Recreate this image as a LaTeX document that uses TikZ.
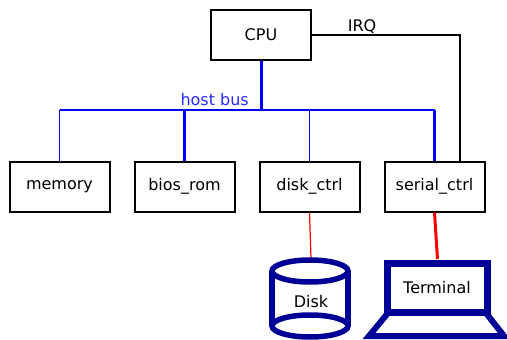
\documentclass[tikz,border=0pt]{standalone}
\usepackage{fontspec}
\setmainfont{DejaVu Sans}
\usepackage{tikz}
\usetikzlibrary{positioning}
\definecolor{devblue}{RGB}{0,0,150}
\definecolor{busblue}{RGB}{40,40,255}

\begin{document}
\begin{tikzpicture}[x=1pt,y=-1pt,
font=\fontsize{16}{19}\selectfont,
unit/.style={draw,line width=2pt,minimum width=100pt,minimum height=50pt,inner sep=0pt},
bus/.style={draw=blue,line width=3pt},
tap/.style={draw=blue,line width=1.4pt},
device/.style={draw=devblue,line width=5.5pt}]
\useasboundingbox (0,0) rectangle (507,340);
% units
\node[unit] (cpu) at (261,35) {CPU};
\node[unit] (memory) at (59.5,186.5) {memory};
\node[unit,right=23pt of memory] (biosrom) {bios\_rom};
\node[unit,right=23pt of biosrom] (diskctrl) {disk\_ctrl};
\node[unit,right=23pt of diskctrl] (serialctrl) {serial\_ctrl};
% host bus
\coordinate (bus) at (261,110);
\draw[bus] (cpu.south) -- (bus);
\draw[bus,line width=2.6pt] (memory.north |- bus) -- (serialctrl.north |- bus);
\draw[tap] (memory.north) -- (memory.north |- bus);
\draw[bus] (biosrom.north) -- (biosrom.north |- bus);
\draw[tap] (diskctrl.north) -- (diskctrl.north |- bus);
\draw[bus] (serialctrl.north) -- (serialctrl.north |- bus);
\node[text=busblue,anchor=base east,inner sep=0pt] (hostbus) at (249,105) {host bus};
% interrupt line
\draw[line width=2pt] (cpu.east) -| ([xshift=25pt]serialctrl.north);
\node[anchor=base,inner sep=0pt] (irq) at (362,31.5) {IRQ};
% disk
\coordinate (disktop) at (311,258);
\draw[red,line width=1.2pt] (diskctrl.south) -- (disktop);
\draw[device] (272,271) -- (272,326) (348,271) -- (348,326);
\draw[device] (310,271) ellipse (38pt and 11pt);
\draw[device] (310,326) ellipse (38pt and 11pt);
\node (disk) at (311,302) {Disk};
% terminal
\coordinate (termtop) at (437.5,259);
\draw[red,line width=3pt] (serialctrl.south) -- (termtop);
\draw[device,line width=7pt] (387,263) rectangle (487,312);
\draw[device,line width=6pt] (388,313) -- (369,336) -- (504,336) -- (486,313);
\node (terminal) at (437,288) {Terminal};
\end{tikzpicture}
\end{document}
